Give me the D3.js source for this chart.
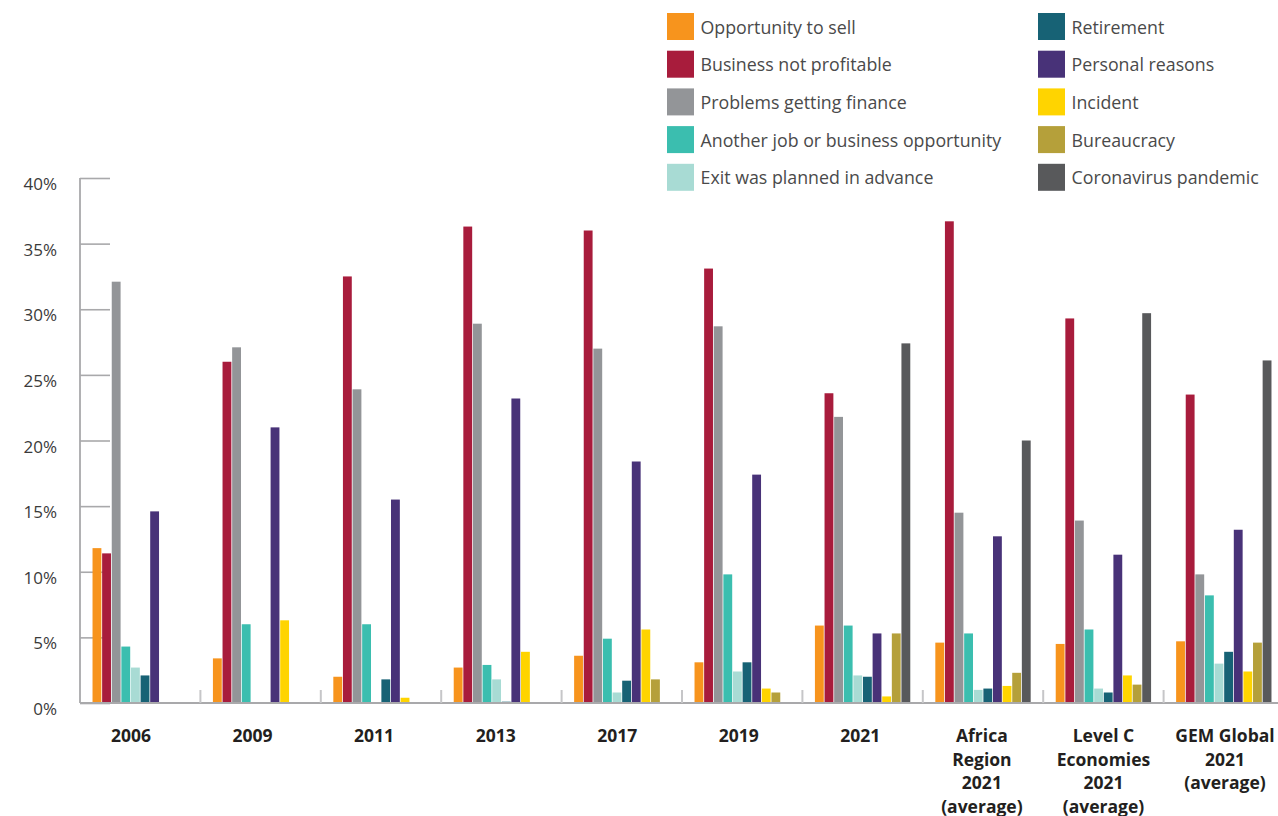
<!DOCTYPE html>
<html>
<head>
<meta charset="utf-8">
<script src="https://cdn.jsdelivr.net/npm/d3@7"></script>
<style>
  html, body { margin: 0; padding: 0; background: #fff; }
  svg { display: block; }
</style>
</head>
<body>
<svg id="chart" width="1278" height="816"></svg>
<script>
// Categories (x-axis groups), each as the lines of its label
const categories = ["2006", "2009", "2011", "2013", "2017", "2019", "2021",
  "Africa Region 2021 (average)", "Level C Economies 2021 (average)", "GEM Global 2021 (average)"];
const categoryLines = [
  ["2006"], ["2009"], ["2011"], ["2013"], ["2017"], ["2019"], ["2021"],
  ["Africa", "Region", "2021", "(average)"],
  ["Level C", "Economies", "2021", "(average)"],
  ["GEM Global", "2021", "(average)"]
];

// Reasons for business exit (series)
const seriesNames = [
  "Opportunity to sell", "Business not profitable", "Problems getting finance",
  "Another job or business opportunity", "Exit was planned in advance",
  "Retirement", "Personal reasons", "Incident", "Bureaucracy", "Coronavirus pandemic"
];
const seriesColors = ["#F7941D", "#A81C3C", "#939598", "#3BBEAF", "#A8DBD4",
  "#176275", "#483278", "#FFD400", "#B5A03A", "#58595B"];

// Share of exits per reason (%), one value per category
const opportunityToSell   = [11.8, 3.4, 2.0, 2.7, 3.6, 3.1, 5.9, 4.6, 4.5, 4.7];
const notProfitable       = [11.4, 26.0, 32.5, 36.3, 36.0, 33.1, 23.6, 36.7, 29.3, 23.5];
const financeProblems     = [32.1, 27.1, 23.9, 28.9, 27.0, 28.7, 21.8, 14.5, 13.9, 9.8];
const anotherOpportunity  = [4.3, 6.0, 6.0, 2.9, 4.9, 9.8, 5.9, 5.3, 5.6, 8.2];
const plannedExit         = [2.7, null, null, 1.8, 0.8, 2.4, 2.1, 1.0, 1.1, 3.0];
const retirement          = [2.1, null, 1.8, 0.1, 1.7, 3.1, 2.0, 1.1, 0.8, 3.9];
const personalReasons     = [14.6, 21.0, 15.5, 23.2, 18.4, 17.4, 5.3, 12.7, 11.3, 13.2];
const incident            = [null, 6.3, 0.4, 3.9, 5.6, 1.1, 0.5, 1.3, 2.1, 2.4];
const bureaucracy         = [null, null, null, null, 1.8, 0.8, 5.3, 2.3, 1.4, 4.6];
const pandemic            = [null, null, null, null, null, null, 27.4, 20.0, 29.7, 26.1];

const seriesValues = [opportunityToSell, notProfitable, financeProblems, anotherOpportunity,
  plannedExit, retirement, personalReasons, incident, bureaucracy, pandemic];

const yTicks = [0, 5, 10, 15, 20, 25, 30, 35, 40];

const svg = d3.select("#chart");
const textFont = "'Open Sans', Lato, sans-serif";

// Scales
const y = d3.scaleLinear().domain([0, 40]).range([703, 178]);
const x0 = d3.scaleBand().domain(categories).range([80, 1284])
  .paddingInner(0.208).paddingOuter(0.104);
const x1 = d3.scaleBand().domain(seriesNames).range([0, x0.bandwidth()]).paddingInner(0.08);
const color = d3.scaleOrdinal().domain(seriesNames).range(seriesColors);
const xLabel = d3.scalePoint().domain(categories).range([131, 1225]);

// Y axis: vertical rule with short tick marks
const yAxis = svg.append("g").attr("transform", "translate(80,0)")
  .call(d3.axisRight(y).tickValues(yTicks).tickSize(30).tickFormat(""));
yAxis.select(".domain").remove();
yAxis.selectAll(".tick line").attr("stroke", "#a9a9ab").attr("stroke-width", 1.6);
svg.append("line")
  .attr("x1", 80).attr("x2", 80).attr("y1", y(40)).attr("y2", y(0))
  .attr("stroke", "#a9a9ab").attr("stroke-width", 1.8);

svg.append("g").selectAll("text").data(yTicks).join("text")
  .attr("x", 57).attr("y", d => y(d) + 12)
  .attr("text-anchor", "end")
  .attr("font-family", textFont).attr("font-weight", 400)
  .attr("font-size", 17).attr("fill", "#3a3a3a")
  .text(d => d + "%");

// Bars
const groups = svg.append("g").selectAll("g").data(categories).join("g")
  .attr("transform", d => `translate(${x0(d)},0)`);
groups.selectAll("rect")
  .data((c, ci) => seriesNames.map((s, si) => ({ s, v: seriesValues[si][ci] }))
    .filter(d => d.v != null && d.v > 0))
  .join("rect")
  .attr("x", d => x1(d.s))
  .attr("width", x1.bandwidth())
  .attr("y", d => y(d.v))
  .attr("height", d => y(0) - y(d.v))
  .attr("fill", d => color(d.s));

// Baseline
svg.append("line")
  .attr("x1", 80).attr("x2", 1278).attr("y1", y(0)).attr("y2", y(0))
  .attr("stroke", "#a9a9ab").attr("stroke-width", 2);

// Group separator ticks
const half = (x0.step() - x0.bandwidth()) / 2;
svg.append("g").selectAll("line").data(categories.slice(1)).join("line")
  .attr("x1", d => x0(d) - half).attr("x2", d => x0(d) - half)
  .attr("y1", y(0)).attr("y2", y(0) - 13)
  .attr("stroke", "#c6c6c8").attr("stroke-width", 2);

// Category labels
const xl = svg.append("g").selectAll("text").data(categories).join("text")
  .attr("x", d => xLabel(d)).attr("y", 742)
  .attr("text-anchor", "middle")
  .attr("font-family", textFont).attr("font-weight", 700)
  .attr("font-size", 17.5).attr("fill", "#231f20");
xl.each(function(d, i) {
  d3.select(this).selectAll("tspan").data(categoryLines[i]).join("tspan")
    .attr("x", xLabel(d)).attr("dy", (t, j) => j === 0 ? 0 : 23.6)
    .text(t => t);
});

// Legend: two columns of five
const legend = svg.append("g").selectAll("g").data(seriesNames).join("g")
  .attr("transform", (d, i) => {
    const col = Math.floor(i / 5), row = i % 5;
    return `translate(${col === 0 ? 667 : 1038},${13 + row * 37.7})`;
  });
legend.append("rect").attr("width", 27).attr("height", 27).attr("fill", d => color(d));
legend.append("text").attr("x", 33.5).attr("y", 20.5)
  .attr("font-family", textFont).attr("font-size", 17.8).attr("fill", "#4a4a4a")
  .text(d => d);
</script>
</body>
</html>
